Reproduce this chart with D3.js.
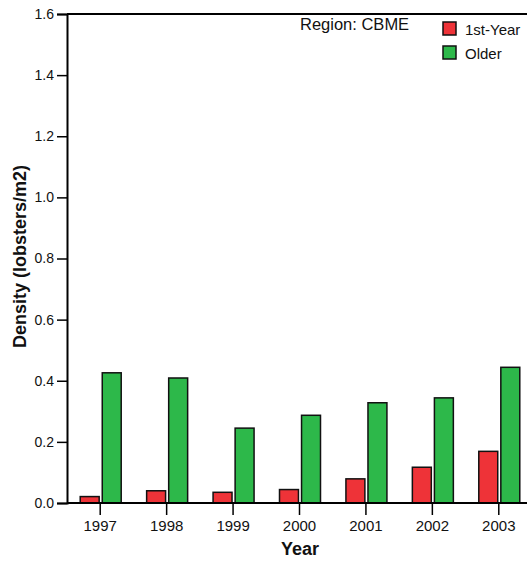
<!DOCTYPE html>
<html><head><meta charset="utf-8">
<script src="https://cdn.jsdelivr.net/npm/d3@7"></script>
<style>body{margin:0;background:#fff}svg{display:block;font-family:"Liberation Sans",Arial,sans-serif}</style>
</head><body><svg id="c" width="527" height="561"></svg>
<script>
const years = ["1997","1998","1999","2000","2001","2002","2003"];
const firstYear = [0.021, 0.040, 0.035, 0.044, 0.079, 0.117, 0.169];
const older = [0.426, 0.409, 0.245, 0.287, 0.328, 0.344, 0.444];
const yTicks = [0.0, 0.2, 0.4, 0.6, 0.8, 1.0, 1.2, 1.4, 1.6];
const seriesNames = ["1st-Year", "Older"];
const colors = ["#ee3338", "#2db84a"];

const svg = d3.select("#c");
const x = d3.scaleBand().domain(years).range([67, 532]).padding(0);
const y = d3.scaleLinear().domain([0, 1.6]).range([503, 14]);
const sub = d3.scaleBand().domain(seriesNames).range([-20, 21]).paddingInner(0.14);

// bars
const series = [firstYear, older];
series.forEach((vals, si) => {
  svg.append("g").selectAll("rect").data(vals).join("rect")
    .attr("x", (d, i) => x(years[i]) + x.bandwidth() / 2 + sub(seriesNames[si]))
    .attr("width", sub.bandwidth())
    .attr("y", d => y(d))
    .attr("height", d => y(0) - y(d))
    .attr("fill", colors[si])
    .attr("stroke", "#111").attr("stroke-width", 1.5);
});

// top line
svg.append("line").attr("x1", 67).attr("x2", 527).attr("y1", y(1.6)).attr("y2", y(1.6))
  .attr("stroke", "#000").attr("stroke-width", 2);

// y axis
const ya = svg.append("g").attr("transform", "translate(67,0)")
  .call(d3.axisLeft(y).tickValues(yTicks).tickFormat(d3.format(".1f")).tickSize(10).tickPadding(3));
ya.select(".domain").attr("stroke-width", 2);
ya.selectAll(".tick line").attr("stroke-width", 1.5);
ya.selectAll("text").attr("font-size", 14).attr("fill", "#111").attr("font-family", "Liberation Sans, Arial, sans-serif");

// x axis
const xa = svg.append("g").attr("transform", "translate(0,503)")
  .call(d3.axisBottom(x).tickSize(12).tickSizeOuter(0));
xa.select(".domain").attr("stroke-width", 2).attr("d", "M67,0H527");
xa.selectAll(".tick line").attr("stroke-width", 1.5);
xa.selectAll("text").attr("font-size", 15).attr("fill", "#111").attr("y", 28).attr("dy", 0)
  .attr("font-family", "Liberation Sans, Arial, sans-serif");

// axis titles
svg.append("text").attr("x", 300).attr("y", 555).attr("text-anchor", "middle")
  .attr("font-size", 18).attr("font-weight", "bold").attr("fill", "#111").text("Year");
svg.append("text").attr("transform", "translate(26,256.5) rotate(-90)").attr("text-anchor", "middle")
  .attr("font-size", 18).attr("font-weight", "bold").attr("fill", "#111").text("Density (lobsters/m2)");

// region label
svg.append("text").attr("x", 300).attr("y", 30).attr("font-size", 16.5).attr("fill", "#111").text("Region: CBME");

// legend
seriesNames.forEach((n, i) => {
  const ly = 22 + i * 24;
  svg.append("rect").attr("x", 443).attr("y", ly).attr("width", 13).attr("height", 13)
    .attr("fill", colors[i]).attr("stroke", "#111").attr("stroke-width", 1.5);
  svg.append("text").attr("x", 465).attr("y", ly + 12.5).attr("font-size", 15).attr("fill", "#111").text(n);
});
</script></body></html>
